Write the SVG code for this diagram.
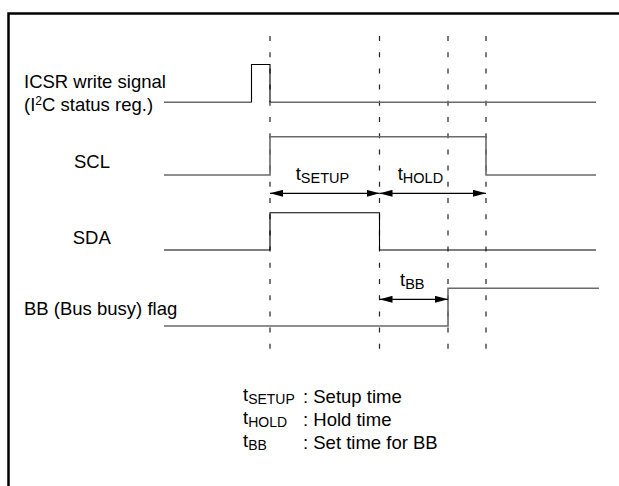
<svg xmlns="http://www.w3.org/2000/svg" width="619" height="486" viewBox="0 0 619 486">
<style>
text{font-family:"Liberation Sans",Arial,sans-serif;font-size:18.5px;fill:#000}
.sub{font-size:14.5px}
.lsub{font-size:14px}
.sup{font-size:12px}
.frame{fill:none;stroke:#000;stroke-width:2.5}
.dash{stroke:#222;stroke-width:1.2;stroke-dasharray:5 11.2;fill:none}
.wg{fill:none;stroke:#6a6a6a;stroke-width:1.6}
.wb{fill:none;stroke:#000;stroke-width:1.1}
.dim{stroke:#000;stroke-width:1.2;fill:none;marker-start:url(#ah);marker-end:url(#ah)}
</style>
<defs>
<marker id="ah" viewBox="0 0 13 7" refX="13" refY="3.5" markerWidth="13" markerHeight="7" markerUnits="userSpaceOnUse" orient="auto-start-reverse">
<path d="M0,0 L13,3.5 L0,7 Z" fill="#000"/>
</marker>
</defs>
<rect width="619" height="486" fill="#fff"/>
<path class="frame" d="M8.5,490 V13.5 H625"/>

<g id="guides">
<line class="dash" x1="270" y1="36" x2="270" y2="360"/>
<line class="dash" x1="379.5" y1="36" x2="379.5" y2="360"/>
<line class="dash" x1="448" y1="36" x2="448" y2="360"/>
<line class="dash" x1="486" y1="36" x2="486" y2="360"/>
</g>

<g id="icsr">
<text x="24" y="88">ICSR write signal</text>
<text x="24" y="110.7">(I<tspan class="sup" dy="-6">2</tspan><tspan dy="6">C status reg.)</tspan></text>
<path class="wg" d="M164,102.3 H251.5 M270,102.3 H596"/>
<path class="wb" d="M251.5,102.3 V64.5 H270 V102.3"/>
</g>

<g id="scl">
<text x="74" y="167.7">SCL</text>
<path class="wg" d="M164,175 H270 V136.7 H486 V175 H596"/>
</g>

<g id="sda">
<text x="72.7" y="244">SDA</text>
<path class="wb" d="M164,250 H270 V212.7 H379.5 V250 H596"/>
</g>

<g id="bb">
<text x="24" y="315">BB (Bus busy) flag</text>
<path class="wg" d="M164,326 H448 V288.3 H599"/>
</g>

<g id="connectors">
<line class="dim" x1="270" y1="193.3" x2="379.5" y2="193.3"/>
<line class="dim" x1="379.5" y1="193.3" x2="486" y2="193.3"/>
<line class="dim" x1="379.5" y1="299.3" x2="448" y2="299.3"/>
</g>

<g id="labels">
<text x="295.7" y="180">t<tspan class="sub" dy="3.3">SETUP</tspan></text>
<text x="397.7" y="180">t<tspan class="sub" dy="3.3">HOLD</tspan></text>
<text x="400" y="285.5">t<tspan class="sub" dy="3">BB</tspan></text>
</g>

<g id="legend">
<text x="243" y="400.5">t<tspan class="lsub" dy="3">SETUP</tspan></text>
<text x="303" y="402.5">: Setup time</text>
<text x="243" y="423.5">t<tspan class="lsub" dy="3">HOLD</tspan></text>
<text x="303" y="425.5">: Hold time</text>
<text x="243" y="446.5">t<tspan class="lsub" dy="3">BB</tspan></text>
<text x="303" y="448.5">: Set time for BB</text>
</g>
</svg>
